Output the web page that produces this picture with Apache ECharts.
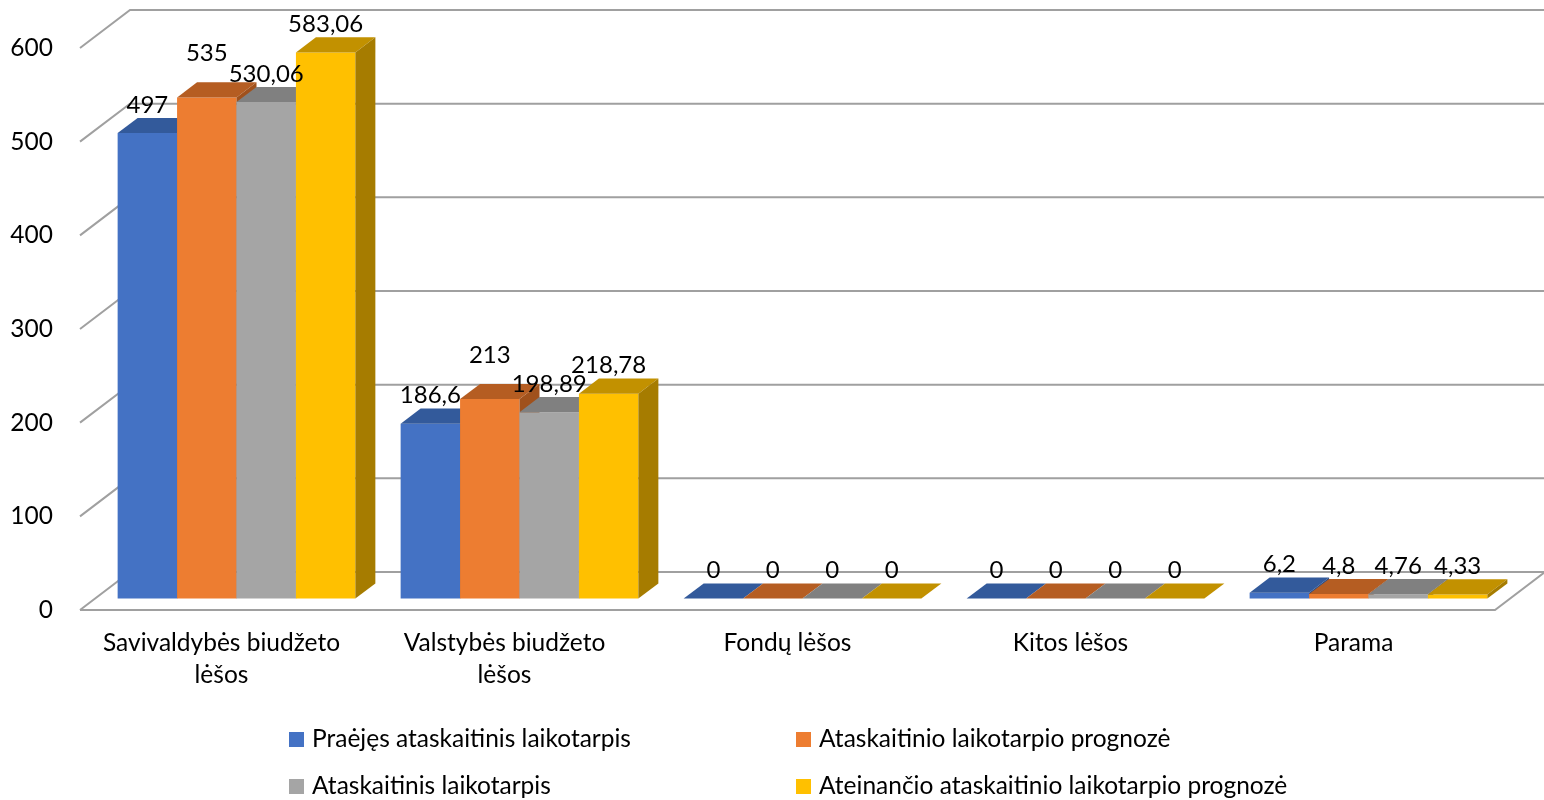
<!DOCTYPE html>
<html>
<head>
<meta charset="utf-8">
<script src="https://cdn.jsdelivr.net/npm/echarts@6/dist/echarts.min.js"></script>
<style>
    html, body { margin: 0; padding: 0; background: #fff; }
    #chart { width: 1544px; height: 800px; }
</style>
</head>
<body>
<div id="chart"></div>
<script>
// kategorijos ir reikšmės
const categories = ['Savivaldybės biudžeto lėšos', 'Valstybės biudžeto lėšos', 'Fondų lėšos', 'Kitos lėšos', 'Parama'];
const seriesNames = ['Praėjęs ataskaitinis laikotarpis', 'Ataskaitinio laikotarpio prognozė', 'Ataskaitinis laikotarpis', 'Ateinančio ataskaitinio laikotarpio prognozė'];
const praejes = [497, 186.6, 0, 0, 6.2];
const prognoze = [535, 213, 0, 0, 4.8];
const ataskaitinis = [530.06, 198.89, 0, 0, 4.76];
const ateinancio = [583.06, 218.78, 0, 0, 4.33];
const yTicks = [0, 100, 200, 300, 400, 500, 600];

// spalvos: priekis, viršus, šonas
const colors = [
    ['#4472C4', '#335A9B', '#2B4D86'],
    ['#ED7D31', '#B55D22', '#A0511C'],
    ['#A5A5A5', '#808080', '#6E6E6E'],
    ['#FFC000', '#C29100', '#A67C00']
];

const FONT = 'Lato';
const FS = 24.5;
const DEPTH = [50, -38];   // 3D gylis (px)
const FRONT = 0.3;         // stulpelio priekio gylis
const BAR_DEPTH = 0.4;     // stulpelio gylis
const BAR_W = 0.21;        // stulpelio plotis (kategorijos dalis)

const values = [praejes, prognoze, ataskaitinis, ateinancio];

const myChart = echarts.init(document.getElementById('chart'));

function fmt(v) {
    return String(v).replace('.', ',');
}

// ar stulpelis aukštesnis už abu kaimynus (tada etiketė pakeliama)
function isPeak(idx, c) {
    if (idx === 0 || idx === values.length - 1) return false;
    const v = values[idx][c];
    return v > values[idx - 1][c] && v > values[idx + 1][c];
}

// 3D stulpelis
function barRenderer(idx) {
    return function (params, api) {
        const c = api.value(0);
        const v = api.value(1);
        const base = api.coord([c, 0]);
        const top = api.coord([c, v]);
        const band = api.size([1, 0])[0];
        const w = band * BAR_W;
        const x0 = base[0] + DEPTH[0] * FRONT - w * 2 + idx * w;
        const yb = base[1] + DEPTH[1] * FRONT;
        const yt = top[1] + DEPTH[1] * FRONT;
        const dx = DEPTH[0] * BAR_DEPTH, dy = DEPTH[1] * BAR_DEPTH;
        const col = colors[idx];
        const lift = isPeak(idx, c) ? 16 : 0;
        return {
            type: 'group',
            children: [
                {
                    type: 'rect',
                    shape: {x: x0, y: yt, width: w, height: yb - yt},
                    style: {fill: col[0]}
                },
                {
                    type: 'polygon',
                    shape: {points: [[x0, yt], [x0 + w, yt], [x0 + w + dx, yt + dy], [x0 + dx, yt + dy]]},
                    style: {fill: col[1]}
                },
                {
                    type: 'polygon',
                    shape: {points: [[x0 + w, yt], [x0 + w, yb], [x0 + w + dx, yb + dy], [x0 + w + dx, yt + dy]]},
                    style: {fill: col[2]}
                },
                {
                    type: 'text',
                    z2: 100,
                    style: {
                        x: x0 + w / 2,
                        y: yt + dy - 13 - lift,
                        text: fmt(v),
                        align: 'center',
                        verticalAlign: 'middle',
                        fill: '#000',
                        font: '24px ' + FONT
                    }
                }
            ]
        };
    };
}

// tinklelio linijos (3D sienos)
function gridRenderer(params, api) {
    const cs = params.coordSys;
    const t = api.value(1);
    const y = api.coord([0, t])[1];
    const xl = cs.x, xr = cs.x + cs.width;
    const style = {stroke: '#A0A0A0', lineWidth: 2, fill: null};
    const children = [{
        type: 'polyline',
        shape: {points: [[xl, y], [xl + DEPTH[0], y + DEPTH[1]], [xr + DEPTH[0], y + DEPTH[1]]]},
        style: style
    }];
    if (t === 0) {
        children.push({
            type: 'polyline',
            shape: {points: [[xl, y], [xr, y], [xr + DEPTH[0], y + DEPTH[1]]]},
            style: style
        });
    }
    return {type: 'group', children: children};
}

const seriesList = [{
    name: 'grid',
    type: 'custom',
    silent: true,
    renderItem: gridRenderer,
    encode: {x: 0, y: 1},
    data: yTicks.map(t => [0, t]),
    z: 1
}];
values.forEach((arr, i) => {
    seriesList.push({
        name: seriesNames[i],
        type: 'custom',
        renderItem: barRenderer(i),
        encode: {x: 0, y: 1},
        itemStyle: {color: colors[i][0]},
        data: arr.map((v, c) => [c, v]),
        z: 2
    });
});

const legendPos = [[289, 727], [796, 727], [289, 774], [796, 774]];

const option = {
    animation: false,
    textStyle: {fontFamily: FONT},
    grid: {
        left: 80,
        right: 49,
        top: 48,
        bottom: 190
    },
    legend: seriesNames.map((n, i) => ({
        data: [n],
        left: legendPos[i][0],
        top: legendPos[i][1],
        padding: 0,
        icon: 'rect',
        itemWidth: 15,
        itemHeight: 15,
        textStyle: {fontSize: FS, color: '#000', fontFamily: FONT, padding: [0, 0, 0, 3]}
    })),
    xAxis: [
        {
            type: 'category',
            data: categories,
            axisLine: {show: false},
            axisTick: {show: false},
            axisLabel: {
                interval: 0,
                margin: 17,
                fontSize: FS,
                lineHeight: 32,
                color: '#000',
                fontFamily: FONT,
                formatter: s => s.length > 20 ? s.replace(/ (\S+)$/, '\n$1') : s
            }
        }
    ],
    yAxis: [
        {
            type: 'value',
            min: 0,
            max: 600,
            interval: 100,
            axisLine: {show: false},
            axisTick: {show: false},
            splitLine: {show: false},
            axisLabel: {
                margin: 27,
                fontSize: FS,
                color: '#000',
                fontFamily: FONT
            }
        }
    ],
    series: seriesList
};

myChart.setOption(option);
</script>
</body>
</html>
